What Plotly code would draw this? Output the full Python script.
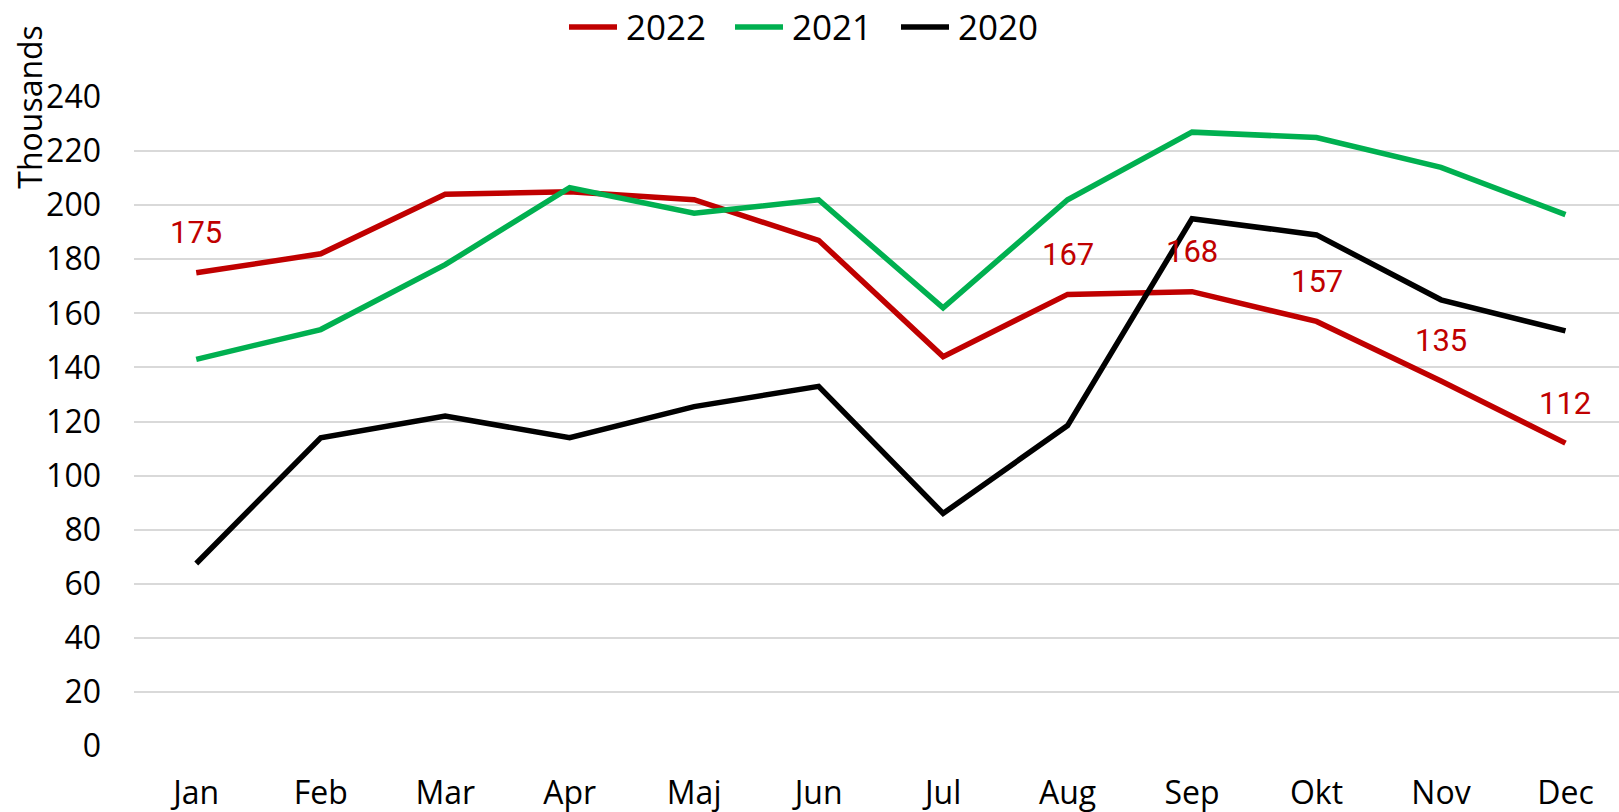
import plotly.graph_objects as go

months = ["Jan", "Feb", "Mar", "Apr", "Maj", "Jun", "Jul", "Aug", "Sep", "Okt", "Nov", "Dec"]

# Monthly values in thousands
y2022 = [175, 182, 204, 205, 202, 187, 144, 167, 168, 157, 135, 112]
y2021 = [143, 154, 178, 206.5, 197, 202, 162, 202, 227, 225, 214, 196.5]
y2020 = [67.5, 114, 122, 114, 125.5, 133, 86, 118.5, 195, 189, 165, 153.5]

# Months whose 2022 value is written on the chart
labelled_2022 = ["Jan", "Aug", "Sep", "Okt", "Nov", "Dec"]

y_ticks = list(range(0, 241, 20))

RED = "#C00000"
GREEN = "#00B050"
BLACK = "#000000"
FONT = "Open Sans, Lato, sans-serif"

W, H = 1619, 812
L, R, T, B = 134, 0, 97, 66

series = [("2022", y2022, RED), ("2021", y2021, GREEN), ("2020", y2020, BLACK)]

fig = go.Figure()
for name, vals, col in series:
    fig.add_trace(go.Scatter(
        x=months, y=vals, name=name, mode="lines",
        line=dict(color=col, width=5.5), showlegend=False,
    ))

# value labels above the 2022 line
for m, v in zip(months, y2022):
    if m in labelled_2022:
        fig.add_annotation(
            x=m, y=v, text=f"{v:g}", showarrow=False,
            yshift=40, xanchor="center", yanchor="middle",
            font=dict(family="Liberation Sans Narrow, Roboto, sans-serif", size=31, color=RED),
        )

# y-axis title
fig.add_annotation(
    xref="paper", yref="paper", x=0, y=0.985, xshift=-104,
    text="Thousands", textangle=-90, showarrow=False,
    xanchor="center", yanchor="middle",
    font=dict(family=FONT, size=32, color="#000000"),
)

# legend row across the top: long line swatch followed by the series name
plot_w = W - L - R
plot_h = H - T - B
def px_x(px):
    return (px - L) / plot_w
def px_y(py):
    return (H - B - py) / plot_h

leg_start, leg_pitch, swatch, gap, leg_y = 569, 166, 48, 7, 27
for i, (name, _, col) in enumerate(series):
    x0 = leg_start + i * leg_pitch
    fig.add_shape(
        type="line", xref="paper", yref="paper",
        x0=px_x(x0), x1=px_x(x0 + swatch), y0=px_y(leg_y), y1=px_y(leg_y),
        line=dict(color=col, width=5.5),
    )
    fig.add_annotation(
        xref="paper", yref="paper", x=px_x(x0 + swatch + gap), y=px_y(leg_y),
        text=name, showarrow=False, xanchor="left", yanchor="middle",
        font=dict(family=FONT, size=35, color="#000000"),
    )

fig.update_layout(
    width=W, height=H,
    margin=dict(l=L, r=R, t=T, b=B),
    paper_bgcolor="white", plot_bgcolor="white",
    font=dict(family=FONT, size=32, color="#000000"),
    showlegend=False,
    xaxis=dict(
        type="category", range=[-0.5, 11.43],
        showgrid=False, showline=False, zeroline=False, ticks="",
        ticklabelstandoff=25,
        tickfont=dict(family=FONT, size=32),
    ),
    yaxis=dict(
        range=[0, 240], tickvals=y_ticks,
        showgrid=True, gridcolor="#D9D9D9", gridwidth=1.5,
        zeroline=False, showline=False, ticks="",
        ticklabelstandoff=32,
        tickfont=dict(family=FONT, size=32),
    ),
)

fig.write_html("out.html")
